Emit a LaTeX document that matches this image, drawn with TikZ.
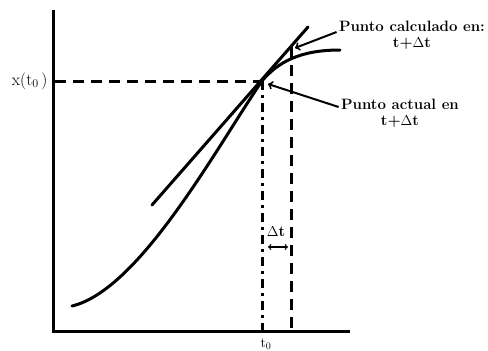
\documentclass[tikz,border=0pt]{standalone}
\usepackage{amsmath}
\begin{document}
\begin{tikzpicture}[x=1pt,y=-1pt,line width=3pt,
    lbl/.style={font=\fontsize{15}{16}\selectfont\bfseries,align=center,inner sep=1pt},
    dsh/.style={dash pattern=on 11pt off 7pt},
    dshdot/.style={dash pattern=on 9pt off 5pt on 3pt off 5pt}]
    \useasboundingbox (0,0) rectangle (488,351);
    % axes
    \coordinate (O) at (53,331);
    \draw (53,10) -- (O) -- (350,331);
    % points on the curve
    \coordinate (p0) at (262,81);
    \coordinate (p1) at (291,47);
    \coordinate (p2) at (291,58);
    \draw[dsh] (55,81) -- (p0);
    \draw[dshdot] (p0) -- (262,331);
    \draw[dsh] (p1) -- (291,331);
    % solution and tangent
    \draw[line cap=round] (72,306) .. controls (140,290) and (218,145) .. (p0)
      .. controls (278,62) and (300,50) .. (340,50);
    \draw[line cap=round] (152,205) -- (308,27);
    % labels
    \node[lbl,anchor=east,font=\fontsize{17}{18}\selectfont] (xt) at (50,81) {x(t$_0$\,)};
    \node[lbl,font=\fontsize{14}{15}\selectfont] (t0) at (266,344) {t$_0$};
    \node[lbl] (calc) at (412,35) {Punto calculado en:\\t+$\Delta$t};
    \node[lbl] (act) at (400,113) {Punto actual en\\t+$\Delta$t};
    \node[lbl] (dt) at (276,232) {$\Delta$t};
    \draw[->,line width=2pt] (calc.west) ++(0,-3) coordinate (c1) (c1) -- ([shift={(4,1)}]p1);
    \draw[->,line width=2pt] (act.west) ++(0,-6) coordinate (a1) (a1) -- ([shift={(6,3)}]p0);
    \draw[<->,line width=1.2pt] (268,247) coordinate (d1) -- (288,247) coordinate (d2);
\end{tikzpicture}
\end{document}
